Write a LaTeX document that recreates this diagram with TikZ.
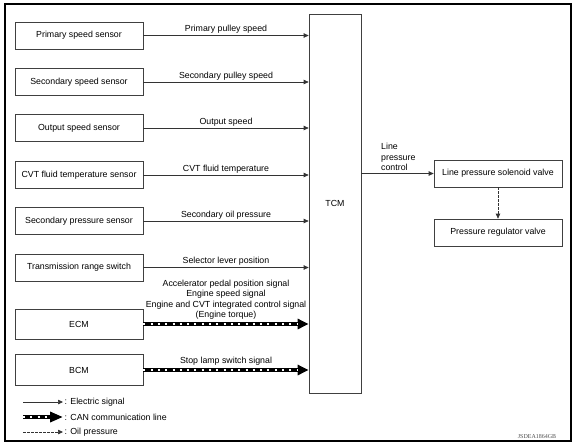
\documentclass[tikz,border=0pt]{standalone}
\usepackage{fontspec}
\setmainfont{Liberation Sans}
\newfontfamily\codefont{Liberation Serif}
\usetikzlibrary{arrows.meta}
\begin{document}
\begin{tikzpicture}[x=1pt,y=-1pt,
  every node/.style={font=\fontsize{8.8}{10.4}\selectfont},
  box/.style={draw=black!75, line width=0.7pt, minimum width=128pt, minimum height=27pt, inner sep=0pt},
  sig/.style={draw=black!80, line width=0.7pt, -{Triangle[length=5pt,width=4.5pt]}},
  oil/.style={draw=black!80, line width=0.7pt, dash pattern=on 2.5pt off 1.5pt, -{Triangle[length=5pt,width=4.5pt]}},
  can/.style={line width=4.5pt, -{Triangle[length=11pt,width=10pt]},
    postaction={draw=white, line width=2.2pt, dash pattern=on 2pt off 5.3pt, shorten >=11pt, -}},
  lbl/.style={anchor=south, inner sep=1.5pt, align=center}
]
\useasboundingbox (0,0) rectangle (586,445);
\draw[line width=1.2pt] (5,4) rectangle (571,441);

% TCM
\node[draw=black!75, line width=0.7pt, minimum width=52pt, minimum height=379pt, inner sep=0pt] (tcm) at (335,203.5) {TCM};

% input boxes
\node[box] (pss) at (79,35.5) {Primary speed sensor};
\node[box] (sss) at (79,82) {Secondary speed sensor};
\node[box] (oss) at (79,128) {Output speed sensor};
\node[box] (cvt) at (79,175) {CVT fluid temperature sensor};
\node[box] (spr) at (79,221) {Secondary pressure sensor};
\node[box] (trs) at (79,267.5) {Transmission range switch};
\node[box, minimum height=30pt] (ecm) at (79,324) {ECM};
\node[box, minimum height=31pt] (bcm) at (79,370) {BCM};

% output boxes
\node[box, minimum width=128pt] (lpsv) at (498,173.5) {Line pressure solenoid valve};
\node[box, minimum width=128pt] (prv) at (498,232.5) {Pressure regulator valve};

% signal arrows
\draw[sig] (pss.east) -- (pss.east -| tcm.west) node[lbl, midway] {Primary pulley speed};
\draw[sig] (sss.east) -- (sss.east -| tcm.west) node[lbl, midway] {Secondary pulley speed};
\draw[sig] (oss.east) -- (oss.east -| tcm.west) node[lbl, midway] {Output speed};
\draw[sig] (cvt.east) -- (cvt.east -| tcm.west) node[lbl, midway] {CVT fluid temperature};
\draw[sig] (spr.east) -- (spr.east -| tcm.west) node[lbl, midway] {Secondary oil pressure};
\draw[sig] (trs.east) -- (trs.east -| tcm.west) node[lbl, midway] {Selector lever position};
\draw[can] (ecm.east) -- (ecm.east -| tcm.west) node[lbl, midway, yshift=1pt] {Accelerator pedal position signal\\Engine speed signal\\Engine and CVT integrated control signal\\(Engine torque)};
\draw[can] (bcm.east) -- (bcm.east -| tcm.west) node[lbl, midway, yshift=1pt] {Stop lamp switch signal};

% output
\draw[sig] (tcm.east |- lpsv.west) -- (lpsv.west);
\node[align=left, anchor=south west, inner sep=0pt] (lpc) at (381,171) {Line\\pressure\\control};
\draw[oil] (lpsv.south) -- (prv.north);

% legend
\coordinate (l1a) at (23,402); \coordinate (l1b) at (63,402);
\coordinate (l2a) at (23,417); \coordinate (l2b) at (63,417);
\coordinate (l3a) at (23,432); \coordinate (l3b) at (63,432);
\draw[sig] (l1a) -- (l1b);
\node[anchor=west, inner sep=1.5pt] (t1) at (l1b) {: Electric signal};
\draw[can, -{Triangle[length=13pt,width=10pt]}, postaction={shorten >=13pt}] (l2a) -- (l2b);
\node[anchor=west, inner sep=1.5pt] (t2) at (l2b) {: CAN communication line};
\draw[oil] (l3a) -- (l3b);
\node[anchor=west, inner sep=1.5pt] (t3) at (l3b) {: Oil pressure};

% code
\node[font=\codefont\fontsize{6}{7}\selectfont, text=black!70, inner sep=0pt] (code) at (537,437) {JSDEA1864GB};
\end{tikzpicture}
\end{document}
